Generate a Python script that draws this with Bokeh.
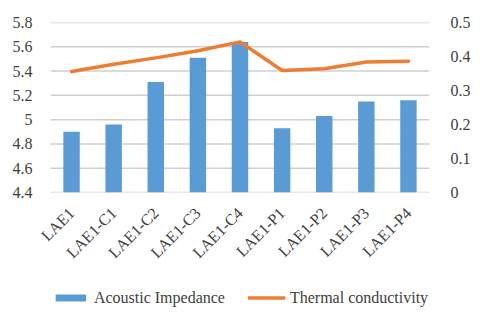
from math import pi
from bokeh.plotting import figure
from bokeh.layouts import column
from bokeh.models import (Range1d, FactorRange, LinearAxis, FixedTicker, Legend, LegendItem)
from bokeh.embed import file_html
from bokeh.resources import INLINE

categories = ["LAE1", "LAE1-C1", "LAE1-C2", "LAE1-C3", "LAE1-C4",
              "LAE1-P1", "LAE1-P2", "LAE1-P3", "LAE1-P4"]
acoustic_impedance = [4.90, 4.96, 5.31, 5.51, 5.64, 4.93, 5.03, 5.15, 5.16]
thermal_conductivity = [0.356, 0.377, 0.396, 0.417, 0.443, 0.359, 0.364, 0.384, 0.386]

left_ticks = [4.4, 4.6, 4.8, 5.0, 5.2, 5.4, 5.6, 5.8]
left_labels = ["4.4", "4.6", "4.8", "5", "5.2", "5.4", "5.6", "5.8"]
right_ticks = [0.0, 0.1, 0.2, 0.3, 0.4, 0.5]
right_labels = ["0", "0.1", "0.2", "0.3", "0.4", "0.5"]

FONT = "Liberation Serif"
TXT = "#404040"
BLUE = "#5B9BD5"
ORANGE = "#ED7D31"
GRID = "#cfcfcf"

left_ticker = FixedTicker(ticks=left_ticks)

p = figure(width=480, height=274, output_backend="svg", toolbar_location=None,
           x_range=FactorRange(*categories, range_padding=0),
           y_range=Range1d(4.4, 5.8),
           min_border_left=50, min_border_right=51, min_border_top=22, min_border_bottom=82)
p.outline_line_color = None
p.background_fill_color = "white"
p.border_fill_color = "white"

p.extra_y_ranges = {"right": Range1d(0, 0.5)}

# horizontal gridlines as thin full-width rectangles at the tick values
mid = categories[len(categories) // 2]
p.rect(x=[mid] * len(left_ticks), y=left_ticks, width=len(categories), height=1.5,
       height_units="screen", fill_color=GRID, line_color=None)

bars = p.vbar(x=categories, top=acoustic_impedance, bottom=4.4, width=0.39,
              fill_color=BLUE, line_color=None)
line = p.line(x=categories, y=thermal_conductivity, y_range_name="right",
              line_color=ORANGE, line_width=3.5, line_cap="round", line_join="round")

# left axis
ya = p.yaxis[0]
ya.ticker = left_ticker
ya.major_label_overrides = {t: l for t, l in zip(left_ticks, left_labels)}
ya.axis_line_color = None
ya.major_tick_line_color = None
ya.minor_tick_line_color = None
ya.major_label_text_font = FONT
ya.major_label_text_font_size = "16px"
ya.major_label_text_color = TXT
ya.major_label_standoff = 12

# right axis
ra = LinearAxis(y_range_name="right", ticker=FixedTicker(ticks=right_ticks))
ra.major_label_overrides = {t: l for t, l in zip(right_ticks, right_labels)}
ra.axis_line_color = None
ra.major_tick_line_color = None
ra.minor_tick_line_color = None
ra.major_label_text_font = FONT
ra.major_label_text_font_size = "16px"
ra.major_label_text_color = TXT
ra.major_label_standoff = 15
p.add_layout(ra, "right")

# x axis
xa = p.xaxis[0]
xa.axis_line_color = None
xa.major_tick_line_color = None
xa.minor_tick_line_color = None
xa.major_label_orientation = pi / 4
xa.major_label_text_font = FONT
xa.major_label_text_font_size = "16px"
xa.major_label_text_color = TXT
xa.major_label_standoff = 12

p.xgrid.grid_line_color = None
p.ygrid.grid_line_color = None

# legend in its own strip below the chart
lg = figure(width=480, height=47, output_backend="svg", toolbar_location=None,
            x_range=Range1d(0, 1), y_range=Range1d(0, 1),
            x_axis_type=None, y_axis_type=None,
            min_border=0, min_border_left=0, min_border_right=0,
            min_border_top=0, min_border_bottom=0)
lg.outline_line_color = None
lg.xgrid.grid_line_color = None
lg.ygrid.grid_line_color = None
lg.background_fill_color = "white"
lg.border_fill_color = "white"
lbar = lg.vbar(x=[-5], top=[-5], bottom=[-6], width=0.39, fill_color=BLUE, line_color=None)
lline = lg.line(x=[-5, -4], y=[-5, -5], line_color=ORANGE, line_width=3.5)

legend = Legend(items=[LegendItem(label="Acoustic Impedance", renderers=[lbar]),
                       LegendItem(label="Thermal conductivity", renderers=[lline])],
                orientation="horizontal", location="center",
                padding=0, margin=0, spacing=22, label_standoff=5,
                glyph_width=38, glyph_height=9, label_height=20,
                label_text_font=FONT, label_text_font_size="16px",
                label_text_color=TXT, border_line_color=None,
                background_fill_alpha=0)
lg.add_layout(legend, "center")

layout = column(p, lg, spacing=0)
open("out.html", "w").write(file_html(layout, INLINE))
